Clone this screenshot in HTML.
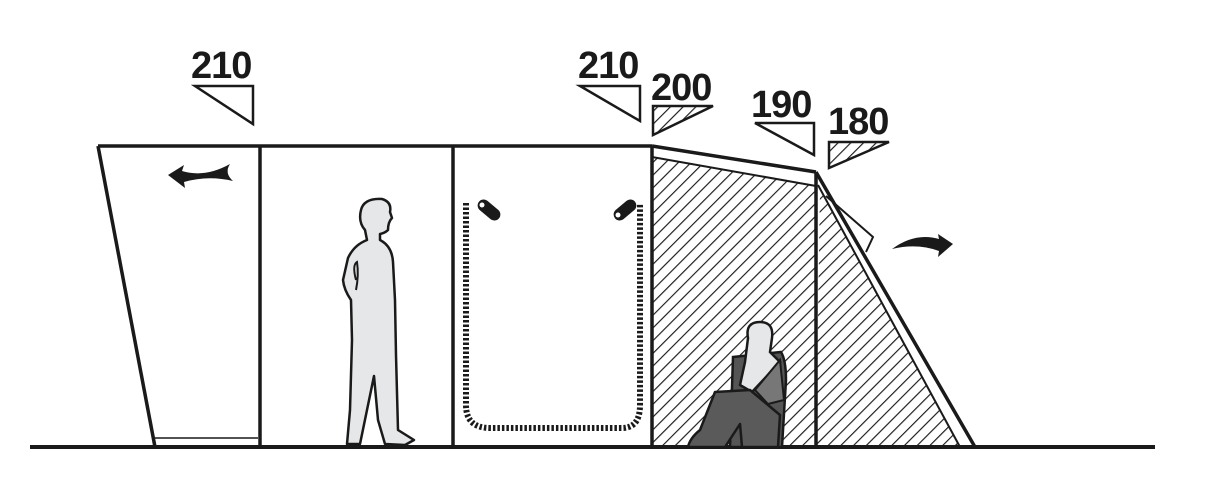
<!DOCTYPE html>
<html><head><meta charset="utf-8"><style>
html,body{margin:0;padding:0;background:#fff;}
svg{display:block}
text{font-family:"Liberation Sans","DejaVu Sans",sans-serif;font-weight:bold;font-size:38px;fill:#1a1a1a;letter-spacing:-1px}
</style></head><body>
<svg width="1230" height="496" viewBox="0 0 1230 496" xmlns="http://www.w3.org/2000/svg">
<defs>
<pattern id="h" patternUnits="userSpaceOnUse" width="9" height="9" patternTransform="rotate(45)">
<rect width="9" height="9" fill="#fff"/>
<line x1="0" y1="0" x2="0" y2="9" stroke="#1a1a1a" stroke-width="2.3"/>
</pattern>
</defs>
<g stroke="#1a1a1a" fill="none" stroke-width="3.5" stroke-linejoin="miter">
<polygon points="652,157 816,186 816,447 652,447" fill="url(#h)" stroke="none"/>
<polygon points="820,190 960,447 816,447" fill="url(#h)" stroke="none"/>
<polyline points="98,146 652,146"/>
<line x1="98" y1="146" x2="155" y2="447"/>
<line x1="155" y1="438" x2="258" y2="438" stroke-width="1.5"/>
<line x1="260" y1="146" x2="260" y2="447"/>
<line x1="453" y1="146" x2="453" y2="447"/>
<line x1="652" y1="146" x2="652" y2="447"/>
<line x1="652" y1="146" x2="816" y2="172"/>
<line x1="652" y1="157" x2="816" y2="186" stroke-width="2"/>
<line x1="816" y1="172" x2="816" y2="447"/>
<line x1="816" y1="172" x2="975" y2="447"/>
<line x1="818" y1="185" x2="960" y2="447" stroke-width="2"/>
<polyline points="826,196 873,237 866,252" stroke-width="2"/>
<line x1="30" y1="447" x2="1155" y2="447" stroke-width="4"/>
<path d="M466,203 L466,405 Q466,428 490,428 L622,428 Q640,428 640,405 L640,203" stroke-width="6" stroke-dasharray="2.5,2"/>
<polygon points="195,86 253,86 253,124" stroke-width="2.5"/>
<polygon points="580,86 640,86 640,121" stroke-width="2.5"/>
<polygon points="653,106 713,106 653,135" stroke-width="2.5" fill="url(#h)"/>
<polygon points="755,123 814,123 814,155" stroke-width="2.5"/>
<polygon points="829,142 889,142 829,168" stroke-width="2.5" fill="url(#h)"/>
</g>
<g fill="#1a1a1a">
<rect x="476" y="204" width="26" height="12" rx="6" transform="rotate(40 489 210)"/>
<rect x="612" y="204" width="26" height="12" rx="6" transform="rotate(-40 625 210)"/>
</g>
<circle cx="482" cy="205" r="2.5" fill="#fff"/>
<circle cx="618" cy="215" r="2.5" fill="#fff"/>
<path d="M168,175 L184,165 L182,171 Q205,178 230,164 Q224,173 233,181 Q208,175 184,182 L185,188 Z" fill="#1a1a1a"/>
<path d="M953,244 L938,234 L939,239 Q915,232 892,249 Q917,243 939,251 L938,257 Z" fill="#1a1a1a"/>
<path d="M361,210 Q364,198 382,199 Q392,202 390,212 L392,218 Q388,222 388,230 Q385,233 380,234 L380,240 Q392,246 393,262 L395,300 L396,355 L398,430 L414,440 L405,445 L385,444 L378,420 L374,376 L360,444 L347,444 L350,410 L352,340 L351,300 Q344,290 343,280 L348,258 Q354,245 367,240 L365,230 Q358,222 361,210 Z" fill="#e6e7e8" stroke="#1a1a1a" stroke-width="2.5" stroke-linejoin="round"/>
<path d="M356,280 Q352,265 357,262 Q359,275 356,290" fill="none" stroke="#1a1a1a" stroke-width="2"/>
<path d="M733,357 L781,352 Q786,360 786,380 L782,447 L730,447 Z" fill="#555" stroke="#1a1a1a" stroke-width="2.5"/>
<path d="M748,338 Q745,322 760,322 Q774,322 772,338 L770,352 L780,362 L752,392 L740,385 L745,362 Z" fill="#e6e7e8" stroke="#1a1a1a" stroke-width="2.5"/>
<path d="M755,390 L780,360 L784,400 L768,404 Z" fill="#777" stroke="#1a1a1a" stroke-width="2"/>
<path d="M715,392 L750,390 L780,415 L778,447 L742,447 L740,424 L725,447 L688,447 Q690,438 700,430 Z" fill="#5a5a5a" stroke="#1a1a1a" stroke-width="2.5" stroke-linejoin="round"/>
<text x="191" y="78">210</text>
<text x="578" y="78">210</text>
<text x="651" y="100">200</text>
<text x="751" y="117">190</text>
<text x="828" y="134">180</text>
</svg>
</body></html>
